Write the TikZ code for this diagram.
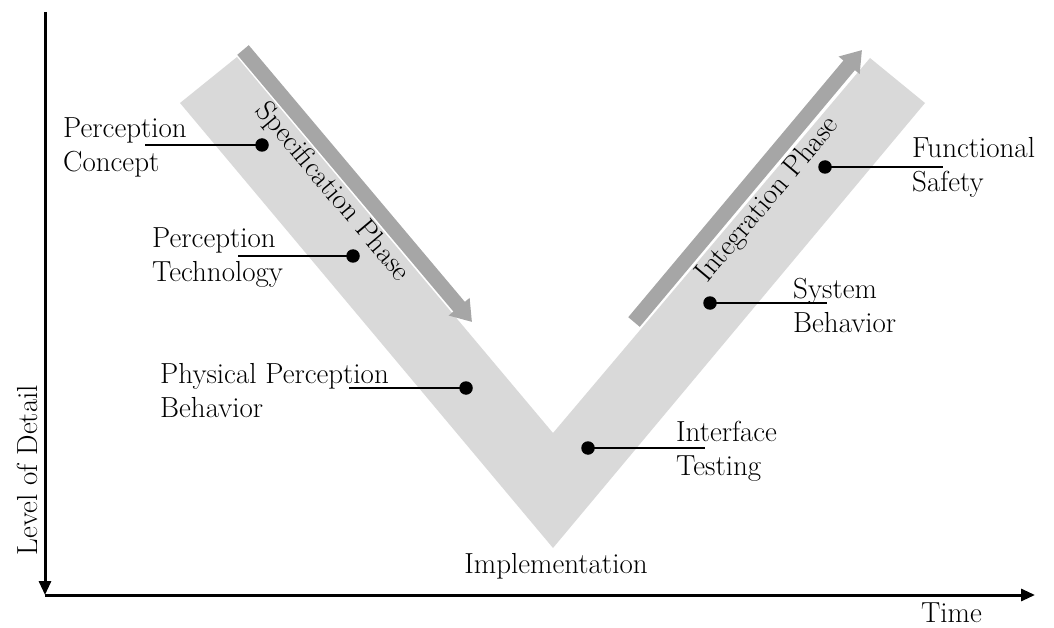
\documentclass[tikz,border=0pt]{standalone}
\usetikzlibrary{arrows.meta}
\definecolor{bandgray}{HTML}{D9D9D9}
\definecolor{phasegray}{HTML}{A6A6A6}
\begin{document}
\begin{tikzpicture}[x=1pt,y=-1pt,
  lbl/.style={inner sep=0pt, align=left, anchor=base west, font=\fontsize{29}{34}\selectfont},
  txt/.style={inner sep=0pt, font=\fontsize{29}{34}\selectfont},
  dot/.style={circle, fill=black, minimum size=13.5pt, inner sep=0pt},
  leader/.style={line width=2.8pt},
  axis/.style={line width=3pt, -{Triangle[length=14pt,width=12pt]}},
  phase/.style={line width=15pt, draw=phasegray, -{Triangle[length=20pt,width=26pt]}},
]
\useasboundingbox (0,0) rectangle (1054,628);

% V band
\fill[bandgray] (180,103) -- (237,57) -- (553,433) -- (870,58) -- (925,103) -- (553,548) -- cycle;

% phase arrows
\coordinate (s1) at (243,50);
\coordinate (t1) at (472,322);
\coordinate (s2) at (634,322);
\coordinate (t2) at (862,50);
\draw[phase] (s1) -- (t1);
\draw[phase] (s2) -- (t2);
\node[txt, rotate=-50] (spec) at (332,192) {Specification Phase};
\node[txt, rotate=50] (integ) at (768,200) {Integration Phase};

% axes
\coordinate (O) at (45,595);
\coordinate (top) at (45,12);
\coordinate (right) at (1035,595);
\draw[axis] (top) -- (O);
\draw[axis] (O) -- (right);
\node[txt, rotate=90, anchor=base] (lod) at (37,470) {Level of Detail};
\node[txt, anchor=base east] (time) at (982,622) {Time};
\node[txt, anchor=base] (impl) at (556,573) {Implementation};

% labels (anchored at the baseline of the second line)
\node[lbl] (pc) at (63,172) {Perception\\Concept};
\node[lbl] (pt) at (152,281) {Perception\\Technology};
\node[lbl] (ppb) at (160,417) {Physical Perception\\Behavior};
\node[lbl] (it) at (676,475) {Interface\\Testing};
\node[lbl] (sb) at (793,332) {System\\Behavior};
\node[lbl] (fs) at (912,192) {Functional\\Safety};

% dots
\node[dot] (d1) at (262,145) {};
\node[dot] (d2) at (353,256) {};
\node[dot] (d3) at (466,388) {};
\node[dot] (d4) at (588,448) {};
\node[dot] (d5) at (710,303) {};
\node[dot] (d6) at (825,167) {};

% leader ends
\coordinate (e1) at (145,145);
\coordinate (e2) at (238,256);
\coordinate (e3) at (349,388);
\coordinate (e4) at (705,448);
\coordinate (e5) at (827,303);
\coordinate (e6) at (943,167);

\draw[leader] (e1) -- (d1.center);
\draw[leader] (e2) -- (d2.center);
\draw[leader] (e3) -- (d3.center);
\draw[leader] (d4.center) -- (e4);
\draw[leader] (d5.center) -- (e5);
\draw[leader] (d6.center) -- (e6);
\end{tikzpicture}
\end{document}
